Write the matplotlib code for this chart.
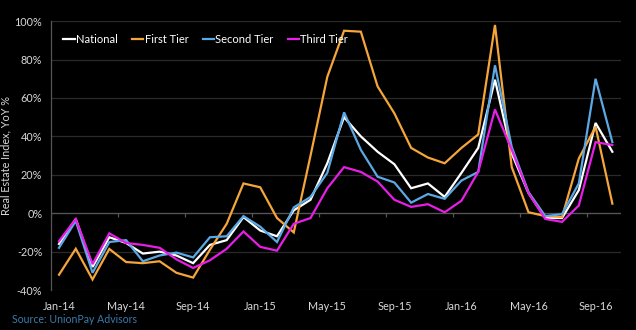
import numpy as np
import matplotlib
matplotlib.use("Agg")
import matplotlib.pyplot as plt

# ===================== DATOS =====================
meses = ['Jan-14', 'Feb-14', 'Mar-14', 'Apr-14', 'May-14', 'Jun-14', 'Jul-14', 'Aug-14',
         'Sep-14', 'Oct-14', 'Nov-14', 'Dec-14', 'Jan-15', 'Feb-15', 'Mar-15', 'Apr-15',
         'May-15', 'Jun-15', 'Jul-15', 'Aug-15', 'Sep-15', 'Oct-15', 'Nov-15', 'Dec-15',
         'Jan-16', 'Feb-16', 'Mar-16', 'Apr-16', 'May-16', 'Jun-16', 'Jul-16', 'Aug-16',
         'Sep-16', 'Oct-16']

national = [-16, -3, -28, -12.5, -15.5, -21, -20, -22, -26, -16.5, -14, -2, -9, -12, 1.5, 7,
            26, 50, 40, 32, 25.5, 13, 15.5, 8.5, 21, 34, 69.5, 31, 10.5, -2.5, -2.5, 12, 47, 32]
first_tier = [-32, -18.5, -34.5, -18.6, -25.4, -26, -25, -31, -33.5, -19, -5.5, 15.5, 13.5, -2.5, -10, 30,
              71, 95, 94.5, 66, 52, 34, 29, 26, 34, 41, 98, 24, 0.5, -1.5, -2, 28.5, 45, 5]
second_tier = [-18, -4, -31, -15, -14, -25, -22, -20.5, -23, -12.5, -12, -1.5, -7, -15, 3, 8.5,
               21, 52.5, 33, 19, 16, 5.5, 10, 7.5, 17, 21.5, 77, 34.5, 11, -1.5, -0.5, 15.5, 70, 37]
third_tier = [-14.5, -3, -26.5, -10.5, -15.5, -16.5, -18, -24, -28.5, -24.5, -18.5, -9.5, -17.5, -19.5, -5.5, -2.5,
              13, 24, 21.5, 16.5, 7, 3.3, 4.7, 0.5, 6.5, 21.5, 54, 33, 10.5, -3, -4.5, 4, 37, 35.5]

series = [
    ('National', national, '#ffffff'),
    ('First Tier', first_tier, '#f5a53a'),
    ('Second Tier', second_tier, '#5ba8e4'),
    ('Third Tier', third_tier, '#e61ee6'),
]

# ===================== GRAFICO =====================
plt.rcParams['font.family'] = ['Lato', 'DejaVu Sans']
fig = plt.figure(figsize=(6.36, 3.30), dpi=100)
fig.patch.set_facecolor('black')
ax = fig.add_axes([0.0796, 0.121, 0.8964, 0.815])
ax.set_facecolor('black')

x = np.arange(len(meses))

for nombre, valores, color in series:
    ax.plot(x, valores, color=color, lw=1.6, label=nombre, solid_joinstyle='miter')

ax.set_xlim(-0.5, len(meses) - 0.5)
ax.set_ylim(-40, 100)
ax.set_yticks(np.arange(-40, 101, 20))
ax.set_yticklabels([f'{v}%' for v in range(-40, 101, 20)])
ax.grid(axis='y', color='#2a2a2a', lw=0.9)
ax.set_axisbelow(True)

# eje horizontal en 0 con marcas entre categorias
ax.axhline(0, color='#555555', lw=0.9, zorder=1)
limites = np.arange(-0.5, len(meses), 4)
ax.vlines(limites, -2, 0, color='#555555', lw=0.9, zorder=1)

ax.set_xticks(x[::4])
ax.set_xticklabels(meses[::4])
ax.tick_params(axis='both', length=0, colors='#d9d9d9', labelsize=7.8)
ax.tick_params(axis='x', pad=8)
ax.tick_params(axis='y', pad=6)

for lado in ['top', 'right', 'bottom']:
    ax.spines[lado].set_visible(False)
ax.spines['left'].set_color('#555555')
ax.spines['left'].set_linewidth(0.9)

ax.set_ylabel('Real Estate Index, YoY %', color='#d9d9d9', fontsize=7.8, labelpad=2)

ax.legend(loc='upper left', bbox_to_anchor=(0.005, 0.99), ncol=4, frameon=False,
          handlelength=1.0, handletextpad=0.12, columnspacing=1.3, fontsize=8,
          labelcolor='#ffffff')

fig.text(0.019, 0.022, 'Source: UnionPay Advisors', color='#3a7bab', fontsize=7.6)

plt.savefig('out.png', dpi=100, facecolor=fig.get_facecolor())
